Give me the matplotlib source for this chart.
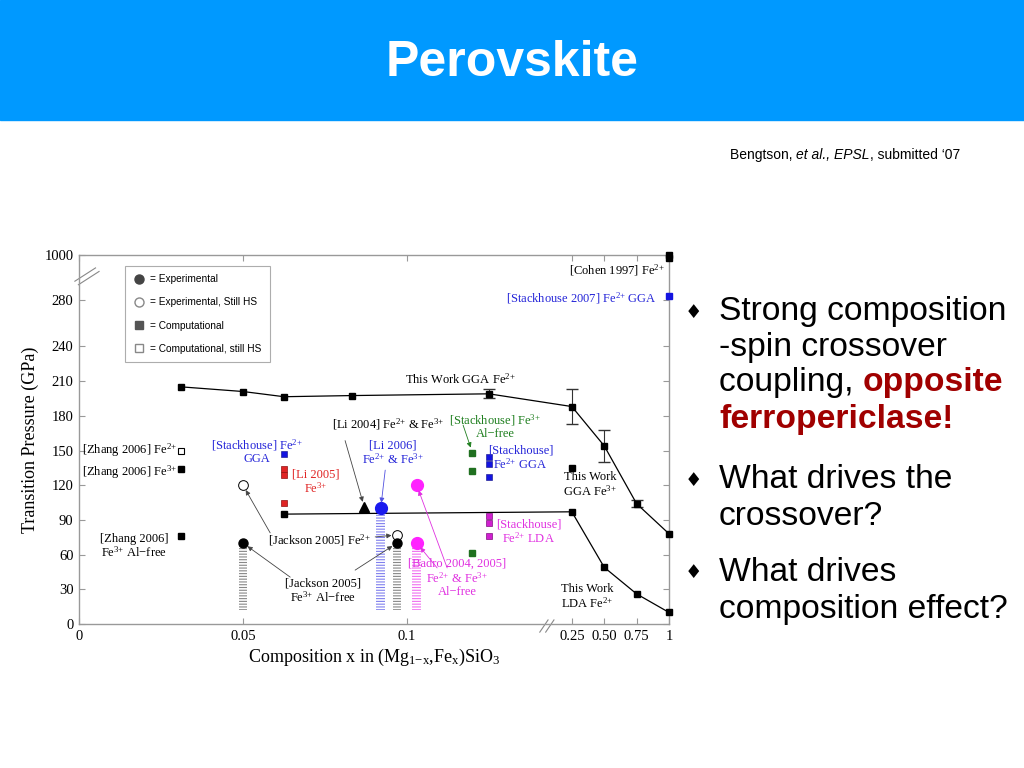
import numpy as np
import matplotlib.pyplot as plt
from matplotlib.lines import Line2D
from matplotlib.patches import Rectangle

plt.rcParams['font.family'] = ['Liberation Serif', 'DejaVu Serif']
plt.rcParams['mathtext.fontset'] = 'custom'
plt.rcParams['mathtext.rm'] = 'Liberation Serif'
plt.rcParams['mathtext.it'] = 'Liberation Serif:italic'
plt.rcParams['mathtext.bf'] = 'Liberation Serif:bold'
plt.rcParams['hatch.linewidth'] = 0.8

# ---- data ----
# this work, GGA Fe2+
gga2_x = [0.03125, 0.05, 0.0625, 0.0833, 0.125, 0.25, 0.5, 0.75, 1.0]
gga2_y = [205, 201, 196.5, 197.5, 199, 188, 154, 104, 78]
gga2_err = [0, 0, 0, 0, 4, 15, 14, 3, 0]
# this work, LDA Fe2+
lda2_x = [0.0625, 0.25, 0.5, 0.75, 1.0]
lda2_y = [95, 97, 49, 26, 10]
# this work, GGA Fe3+
gga3_x = [0.25]
gga3_y = [135]

zhang2_x, zhang2_y = [0.03125], [150]        # open square, still HS
zhang3_x, zhang3_y = [0.03125, 0.03125], [134, 76]
li2005_x, li2005_y = [0.0625, 0.0625, 0.0625], [134, 129, 105]
stack_gga_x = [0.0625, 0.125, 0.125, 0.125]
stack_gga_y = [147, 144, 138, 127]
stack_lda_x, stack_lda_y = [0.125, 0.125, 0.125], [93, 87, 76]
stack_al_x, stack_al_y = [0.12, 0.12, 0.12], [148, 132, 61]
stack07_x, stack07_y = [1.0], [340]
cohen_x, cohen_y = [1.0, 1.0], [1000, 950]

jack_open_x, jack_open_y = [0.05, 0.097], [120, 77]
jack_fill_x, jack_fill_y = [0.05, 0.097], [70, 70]
li2004_x, li2004_y = [0.087], [101]
li2006_x, li2006_y = [0.092], [100]
badro_x, badro_y = [0.103, 0.103], [120, 70]

# experimental pressure ranges (striped bars)
range_x = [0.05, 0.092, 0.097, 0.103]
range_lo = [12, 12, 12, 12]
range_hi = [68, 97, 68, 67]
range_col = ['#888888', '#8080ee', '#888888', '#f070f0']

xticks = [0, 0.05, 0.1, 0.25, 0.5, 0.75, 1]
xticklabels = ['0', '0.05', '0.1', '0.25', '0.50', '0.75', '1']
yticks = [0, 30, 60, 90, 120, 150, 180, 210, 240, 280, 1000]

blue = '#2424d8'
red = '#e02424'
green = '#1e7e1e'
mag = '#e030e0'

F2 = r'Fe$^{2{+}}$'
F3 = r'Fe$^{3{+}}$'


# broken axes as piecewise-linear scales
def xf(x):
    x = np.asarray(x, float)
    return np.where(x <= 0.14, x,
                    np.where(x <= 0.25, 0.14 + (x - 0.14) * 0.0936,
                             0.1503 + (x - 0.25) * 0.0395))


def xi(v):
    v = np.asarray(v, float)
    return np.where(v <= 0.14, v,
                    np.where(v <= 0.1503, 0.14 + (v - 0.14) / 0.0936,
                             0.25 + (v - 0.1503) / 0.0395))


def yf(y):
    y = np.asarray(y, float)
    return np.where(y <= 280, y, 280 + (y - 280) * 0.0542)


def yi(v):
    v = np.asarray(v, float)
    return np.where(v <= 280, v, 280 + (v - 280) / 0.0542)


fig = plt.figure(figsize=(10.24, 7.68), dpi=100)

# slide title bar
fig.patches.append(Rectangle((0, 1 - 120 / 768), 1, 120 / 768, transform=fig.transFigure,
                             color='#0099ff', zorder=0))
fig.text(0.5, 1 - 63 / 768, 'Perovskite', color='white', fontsize=36, fontweight='bold',
         family=['Liberation Sans', 'DejaVu Sans'], ha='center', va='center')

ax = fig.add_axes([79 / 1024, 144 / 768, 590 / 1024, 369 / 768])
ax.set_xscale('function', functions=(xf, xi))
ax.set_yscale('function', functions=(yf, yi))
ax.set_xlim(0, 1)
ax.set_ylim(0, 1000)

# striped experimental ranges
for x, lo, hi, c in zip(range_x, range_lo, range_hi, range_col):
    ax.bar(x, hi - lo, bottom=lo, width=0.0026, facecolor='none', edgecolor=c,
           hatch='------', linewidth=0, zorder=1)

# this work
ax.plot(gga2_x, gga2_y, color='k', lw=0.9, marker='s', ms=5, clip_on=False, zorder=3)
ex = [x for x, e in zip(gga2_x, gga2_err) if e > 0]
ey = [y for y, e in zip(gga2_y, gga2_err) if e > 0]
ee = [e for e in gga2_err if e > 0]
ax.errorbar(ex, ey, yerr=ee, fmt='none', ecolor='#333333', elinewidth=0.8, capsize=4, zorder=2)
ax.plot(lda2_x, lda2_y, color='k', lw=0.9, marker='s', ms=5, clip_on=False, zorder=3)
ax.plot(gga3_x, gga3_y, 's', color='k', ms=5, zorder=3)

# other computations
ax.plot(zhang2_x, zhang2_y, 's', mfc='white', mec='k', mew=0.8, ms=5, zorder=3)
ax.plot(zhang3_x, zhang3_y, 's', color='k', ms=5, zorder=3)
ax.plot(li2005_x, li2005_y, 's', color=red, mec='#901010', mew=0.5, ms=5, zorder=3)
ax.plot(stack_gga_x, stack_gga_y, 's', color='#1414e0', mec='#0a0a80', mew=0.4, ms=5, zorder=3)
ax.plot(stack_lda_x, stack_lda_y, 's', color='#d020d0', mec='#801080', mew=0.5, ms=5, zorder=3)
ax.plot(stack_al_x, stack_al_y, 's', color='#207020', ms=5, zorder=3)
ax.plot(stack07_x, stack07_y, 's', color='#1414e0', ms=5, clip_on=False, zorder=3)
ax.plot(cohen_x, cohen_y, 's', color='k', ms=5, clip_on=False, zorder=3)

# experiments
ax.plot(jack_open_x, jack_open_y, 'o', mfc='white', mec='k', mew=0.7, ms=7, zorder=3)
ax.plot(jack_fill_x, jack_fill_y, 'o', color='k', ms=6.5, zorder=4)
ax.plot(li2004_x, li2004_y, '^', color='k', ms=7.5, zorder=3)
ax.plot(li2006_x, li2006_y, 'o', color='#1a1aee', ms=8.5, zorder=3)
ax.plot(badro_x, badro_y, 'o', color='#ff22ff', ms=8.5, zorder=3)

# axes styling
for s in ax.spines.values():
    s.set_color('#999999')
    s.set_linewidth(1)
ax.set_xticks(xticks)
ax.set_xticklabels(xticklabels)
ax.set_yticks(yticks)
ax.set_yticklabels([str(t) for t in yticks])
ax.tick_params(direction='in', top=True, right=True, length=4, color='#999999',
               labelsize=10.5, pad=4)
ax.set_ylabel('Transition Pressure (GPa)', fontsize=13)
ax.set_xlabel(r'Composition x in (Mg$_{\mathrm{1{-}x}}$,Fe$_{\mathrm{x}}$)SiO$_3$', fontsize=13,
              labelpad=3)

# axis break marks
for dx in (0, 0.006):
    ax.plot([-0.007 + dx, 0.028 + dx], [0.929 - dx * 1.6, 0.965 - dx * 1.6], color='#888888',
            lw=0.8, transform=ax.transAxes, clip_on=False)
for dx in (0, 0.01):
    ax.plot([0.781 + dx, 0.795 + dx], [-0.022, 0.011], color='#888888', lw=0.8,
            transform=ax.transAxes, clip_on=False)

# legend
hnd = [
    Line2D([], [], ls='none', marker='o', color='#444444', ms=6.5, label='= Experimental'),
    Line2D([], [], ls='none', marker='o', mfc='white', mec='#888888', ms=6.5,
           label='= Experimental, Still HS'),
    Line2D([], [], ls='none', marker='s', color='#555555', ms=6, label='= Computational'),
    Line2D([], [], ls='none', marker='s', mfc='white', mec='#888888', ms=6,
           label='= Computational, still HS'),
]
leg = ax.legend(handles=hnd, loc='upper left', bbox_to_anchor=(0.078, 0.97), borderaxespad=0,
                prop={'family': 'Liberation Sans', 'size': 7.3}, frameon=True, fancybox=False,
                handlelength=1.2, handletextpad=0.5, labelspacing=1.3, borderpad=0.8)
leg.get_frame().set_edgecolor('#999999')
leg.get_frame().set_linewidth(0.8)

# labels
fs = 9
af = 'axes fraction'


def lab(s, x, y, c='k', ha='center'):
    ax.annotate(s, xy=(x, y), xycoords=af, ha=ha, va='center', color=c, fontsize=fs,
                multialignment='center', linespacing=1.05)


lab('[Cohen 1997] ' + F2, 0.993, 0.959, ha='right')
lab('[Stackhouse 2007] ' + F2 + ' GGA', 0.980, 0.883, c=blue, ha='right')
lab('This Work GGA ' + F2, 0.646, 0.662)
lab('[Li 2004] ' + F2 + ' & ' + F3, 0.524, 0.542)
lab('[Stackhouse] ' + F3 + '\nAl\u2212free', 0.705, 0.536, c=green)
lab('[Stackhouse] ' + F2 + '\nGGA', 0.302, 0.469, c=blue)
lab('[Li 2006]\n' + F2 + ' & ' + F3, 0.532, 0.463, c=blue)
lab('[Stackhouse]\n' + F2 + ' GGA', 0.748, 0.450, c=blue)
lab('[Zhang 2006] ' + F2, 0.166, 0.471, ha='right')
lab('[Zhang 2006] ' + F3, 0.166, 0.412, ha='right')
lab('[Li 2005]\n' + F3, 0.402, 0.385, c=red)
lab('This Work\nGGA ' + F3, 0.866, 0.377)
lab('[Jackson 2005] ' + F2, 0.408, 0.228)
lab('[Stackhouse]\n' + F2 + ' LDA', 0.762, 0.249, c=mag)
lab('[Zhang 2006]\n' + F3 + ' Al\u2212free', 0.093, 0.211)
lab('[Jackson 2005]\n' + F3 + ' Al\u2212free', 0.414, 0.089)
lab('[Badro 2004, 2005]\n' + F2 + ' & ' + F3 + '\nAl\u2212free', 0.641, 0.125, c=mag)
lab('This Work\nLDA ' + F2, 0.861, 0.073)


def arrow(x, y, tx, ty, c='#444444'):
    ax.annotate('', xy=(x, y), xycoords='data', xytext=(tx, ty), textcoords=af,
                arrowprops=dict(arrowstyle='-|>', color=c, lw=0.6, mutation_scale=7,
                                shrinkA=0, shrinkB=4))


arrow(li2004_x[0], li2004_y[0], 0.451, 0.497)
arrow(li2006_x[0], li2006_y[0], 0.519, 0.417, c='#5050e0')
arrow(stack_al_x[0], stack_al_y[0], 0.651, 0.539, c=green)
arrow(jack_open_x[0], jack_open_y[0], 0.324, 0.247)
arrow(jack_open_x[1], jack_open_y[1], 0.502, 0.236)
arrow(jack_fill_x[0], jack_fill_y[0], 0.358, 0.127)
arrow(jack_fill_x[1], jack_fill_y[1], 0.468, 0.146)
arrow(badro_x[0], badro_y[0], 0.624, 0.152, c=mag)
arrow(badro_x[1], badro_y[1], 0.607, 0.152, c=mag)

# slide text on the right
sans = ['Liberation Sans', 'DejaVu Sans']
renderer = fig.canvas.get_renderer()


def chain(x, ybase, pieces, size):
    for s, kw in pieces:
        t = fig.text(x, 1 - ybase / 768, s, fontsize=size, family=sans, va='baseline', **kw)
        bb = t.get_window_extent(renderer)
        x = bb.x1 / fig.bbox.width


chain(730 / 1024, 159, [('Bengtson, ', {}), ('et al., EPSL', {'style': 'italic'}),
                         (', submitted \u201807', {})], 10)

bsize = 24.2
lines = [
    (320, [('Strong composition', {})]),
    (356, [('-spin crossover', {})]),
    (391, [('coupling, ', {}), ('opposite', {'color': '#a00000', 'fontweight': 'bold'})]),
    (428, [('ferropericlase!', {'color': '#a00000', 'fontweight': 'bold'})]),
    (488, [('What drives the', {})]),
    (525, [('crossover?', {})]),
    (581, [('What drives', {})]),
    (618, [('composition effect?', {})]),
]
for yb, pcs in lines:
    chain(719 / 1024, yb, pcs, bsize)
for yb in (313, 480, 573):
    fig.text(693 / 1024, 1 - yb / 768, '\u2666', fontsize=14, family=['DejaVu Sans'],
             ha='center', va='center')

fig.savefig('out.png', dpi=100)
